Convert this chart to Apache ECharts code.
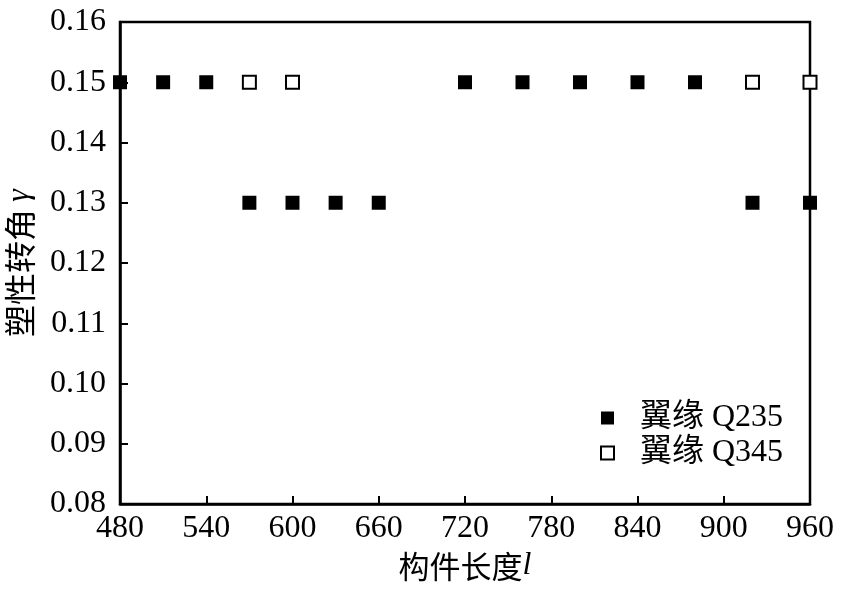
<!DOCTYPE html>
<html><head><meta charset="utf-8">
<script src="https://cdn.jsdelivr.net/npm/echarts@6/dist/echarts.min.js"></script>
<style>html,body{margin:0;padding:0;background:#fff}#c{width:866px;height:603px}</style>
</head><body><div id="c"></div>
<script>
const xQ235 = [480, 510, 540, 570, 600, 630, 660, 720, 760, 800, 840, 880, 920, 960];
const yQ235 = [0.15, 0.15, 0.15, 0.13, 0.13, 0.13, 0.13, 0.15, 0.15, 0.15, 0.15, 0.15, 0.13, 0.13];
const xQ345 = [570, 600, 920, 960];
const yQ345 = [0.15, 0.15, 0.15, 0.15];
const seriesNames = ['翼缘 Q235', '翼缘 Q345'];
const xTicks = [480, 540, 600, 660, 720, 780, 840, 900, 960];

const FONT = '"Liberation Serif", "Noto Sans CJK SC", serif';
const chart = echarts.init(document.getElementById('c'));
chart.setOption({
  animation: false,
  grid: { left: 120, right: 56, top: 22, bottom: 99, show: true, borderColor: '#000', borderWidth: 2.5, outerBoundsMode: 'none', containLabel: false },
  legend: {
    orient: 'vertical', left: 595, top: 397, itemWidth: 13, itemHeight: 13, itemGap: 3,
    textStyle: { fontFamily: FONT, fontSize: 32, color: '#000', padding: [0, 0, 0, 21] },
    data: [{ name: seriesNames[0], icon: 'rect' }, { name: seriesNames[1], icon: 'rect' }]
  },
  xAxis: {
    type: 'value', min: xTicks[0], max: xTicks[xTicks.length - 1], interval: 60,
    axisLine: { show: true, lineStyle: { color: '#000', width: 2.5 } },
    axisTick: { show: true, inside: true, length: 8, lineStyle: { color: '#000', width: 2 } },
    splitLine: { show: false },
    axisLabel: { fontFamily: FONT, fontSize: 32, color: '#000', margin: 9 },
    name: '{a|构件长度}{b|l}', nameLocation: 'middle', nameGap: 46,
    nameTextStyle: { rich: {
      a: { fontFamily: '"Noto Sans CJK SC"', fontSize: 31, color: '#000' },
      b: { fontFamily: '"Liberation Serif"', fontStyle: 'italic', fontSize: 32, color: '#000' } } }
  },
  yAxis: {
    type: 'value', min: 0.08, max: 0.16, interval: 0.01,
    axisLine: { show: true, lineStyle: { color: '#000', width: 2.5 } },
    axisTick: { show: true, inside: true, length: 8, lineStyle: { color: '#000', width: 2 } },
    splitLine: { show: false },
    axisLabel: { fontFamily: FONT, fontSize: 32, color: '#000', margin: 14, formatter: v => v.toFixed(2) },
    name: '{a|塑性转角 }{b|γ}', nameLocation: 'middle', nameGap: 84, nameRotate: 90,
    nameTextStyle: { rich: {
      a: { fontFamily: '"Noto Sans CJK SC"', fontSize: 32, color: '#000' },
      b: { fontFamily: '"Liberation Serif"', fontStyle: 'italic', fontSize: 32, color: '#000' } } }
  },
  series: [
    { name: seriesNames[0], type: 'scatter', symbol: 'rect', symbolSize: 14, clip: false, z: 20,
      itemStyle: { color: '#000', borderColor: '#000', borderWidth: 0, opacity: 1 },
      data: xQ235.map((x, i) => [x, yQ235[i]]) },
    { name: seriesNames[1], type: 'scatter', symbol: 'rect', symbolSize: 13, clip: false, z: 20,
      itemStyle: { color: '#fff', borderColor: '#000', borderWidth: 2, opacity: 1 },
      data: xQ345.map((x, i) => [x, yQ345[i]]) }
  ]
});
</script></body></html>
